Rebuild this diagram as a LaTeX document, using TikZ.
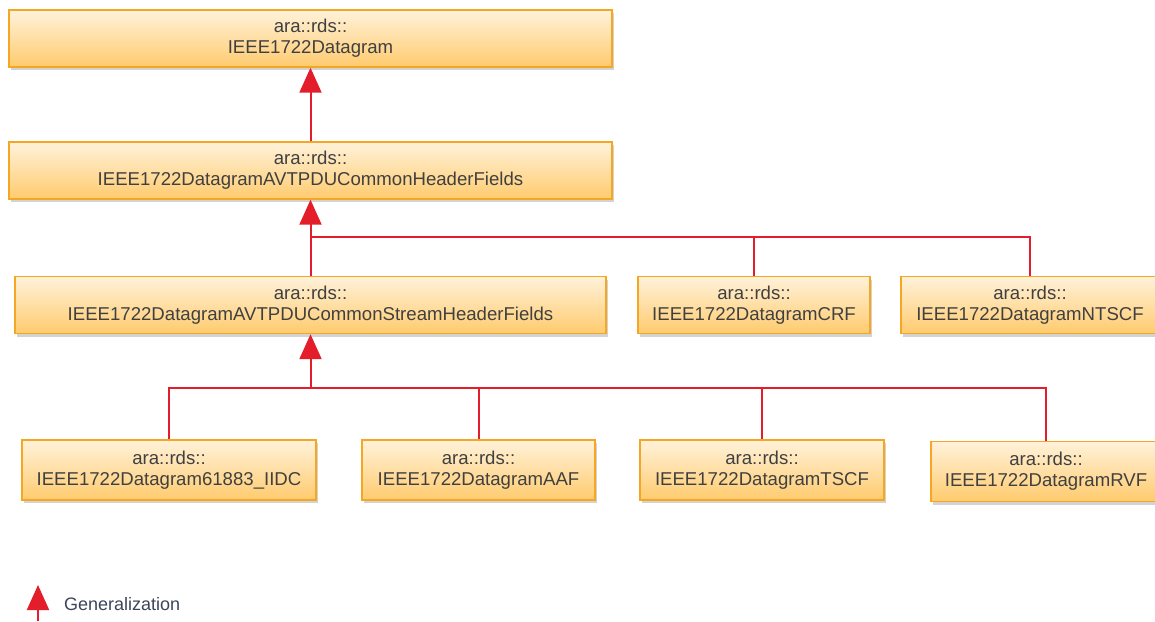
\documentclass[tikz,border=0pt]{standalone}
\usepackage{fontspec}
\setmainfont{Liberation Sans}
\usetikzlibrary{arrows.meta,shadows}
\definecolor{genred}{HTML}{E31E2A}
\definecolor{boxborder}{HTML}{F5A623}
\definecolor{boxtop}{HTML}{FFF2DA}
\definecolor{boxbot}{HTML}{FFCB6E}
\definecolor{txt}{HTML}{404040}
\definecolor{legtxt}{HTML}{3B4559}
\begin{document}
\begin{tikzpicture}[x=1pt,y=-1pt,
  cls/.style={draw=boxborder, line width=1.4pt, top color=boxtop, bottom color=boxbot,
    minimum height=57pt, align=center, text=txt, inner sep=0pt,
    font=\fontsize{18.6}{21}\selectfont,
    drop shadow={shadow xshift=2pt, shadow yshift=-3pt, opacity=0.35, fill=gray}},
  gen/.style={draw=genred, line width=2pt, -{Triangle[width=22pt,length=25pt,fill=genred]}},
  link/.style={draw=genred, line width=2pt}]
\useasboundingbox (0,0) rectangle (1155,621);
\node[cls, minimum width=603pt] (b1) at (310.5,38.5) {ara::rds::\\IEEE1722Datagram};
\node[cls, minimum width=603pt] (b2) at (310.5,170.5) {ara::rds::\\IEEE1722DatagramAVTPDUCommonHeaderFields};
\node[cls, minimum width=591pt] (b3) at (310.5,305) {ara::rds::\\IEEE1722DatagramAVTPDUCommonStreamHeaderFields};
\node[cls, minimum width=232pt] (crf) at (754,305) {ara::rds::\\IEEE1722DatagramCRF};
\node[cls, minimum width=258pt] (ntscf) at (1030,305) {ara::rds::\\IEEE1722DatagramNTSCF};
\node[cls, minimum width=294pt, minimum height=60pt] (iidc) at (169,470) {ara::rds::\\IEEE1722Datagram61883\_IIDC};
\node[cls, minimum width=233pt, minimum height=60pt] (aaf) at (478.5,470) {ara::rds::\\IEEE1722DatagramAAF};
\node[cls, minimum width=244pt, minimum height=60pt] (tscf) at (762,470) {ara::rds::\\IEEE1722DatagramTSCF};
\node[cls, minimum width=230pt, minimum height=60pt] (rvf) at (1046,471.5) {ara::rds::\\IEEE1722DatagramRVF};
\coordinate (j1) at (310.5,237);
\coordinate (j2) at (310.5,388);
\draw[gen] (b2.north) -- (b1.south);
\draw[link] (crf.north) |- (j1);
\draw[link] (ntscf.north) |- (j1);
\draw[gen] (b3.north) -- (b2.south);
\draw[link] (iidc.north) |- (j2);
\draw[link] (aaf.north) |- (j2);
\draw[link] (tscf.north) |- (j2);
\draw[link] (rvf.north) |- (j2);
\draw[gen] (j2) -- (b3.south);
\coordinate (la) at (38,621);
\coordinate (lb) at (38,585);
\draw[gen] (la) -- (lb);
\node[anchor=west, text=legtxt, font=\fontsize{18}{20}\selectfont, inner sep=0pt] (leg) at (64,604) {Generalization};
\end{tikzpicture}
\end{document}
